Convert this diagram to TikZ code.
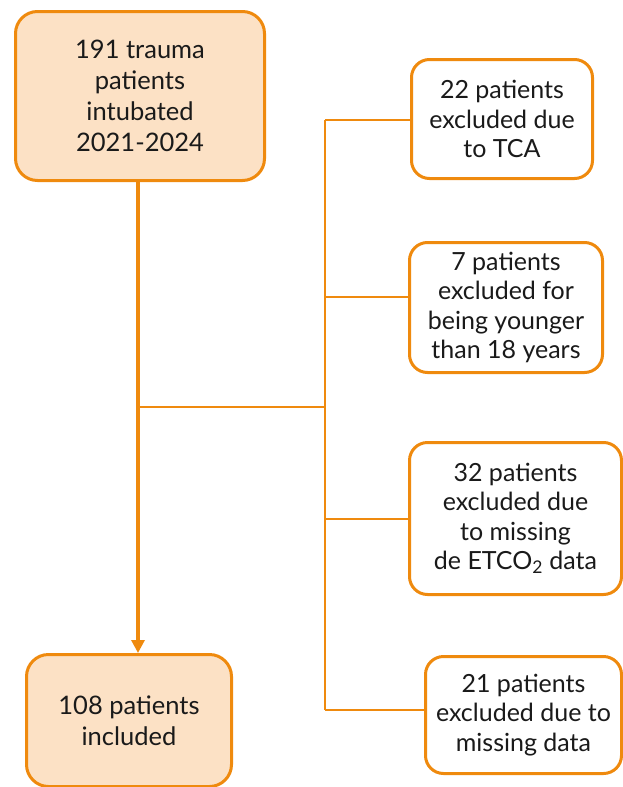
\documentclass[tikz,border=0pt]{standalone}
\usepackage{fontspec}
\setmainfont{Lato}
\usepackage{xcolor}
\definecolor{accent}{HTML}{EF8A0E}
\definecolor{accentsoft}{HTML}{FCE1C5}
\definecolor{ink}{HTML}{1A1A1A}
\usetikzlibrary{arrows.meta,positioning,calc}

\begin{document}
\begin{tikzpicture}[x=1pt,y=-1pt,
  mainbox/.style={rectangle,rounded corners=22pt,draw=accent,line width=3pt,fill=accentsoft,
    text=ink,align=center,inner sep=0pt,font=\fontsize{25.5}{31}\selectfont},
  exclbox/.style={rectangle,rounded corners=18pt,draw=accent,line width=3pt,fill=white,
    text=ink,align=center,inner sep=0pt,font=\fontsize{25}{29.5}\selectfont},
  flow/.style={-{Triangle[length=13pt,width=13pt]},accent,line width=3.2pt},
  link/.style={accent,line width=2pt}]
  \useasboundingbox (0,0) rectangle (623,787);
  \node[mainbox,minimum width=249pt,minimum height=169pt] (intub) at (140,96)
    {191 trauma\\patients\\intubated\\2021-2024};
  \node[mainbox,minimum width=205pt,minimum height=132pt] (incl) at (129,720.5)
    {108 patients\\included};
  \node[exclbox,minimum width=181pt,minimum height=119pt] (tca) at (502,119)
    {22 patients\\excluded due\\to TCA};
  \node[exclbox,minimum width=193pt,minimum height=130pt] (young) at (506,307.5)
    {7 patients\\excluded for\\being younger\\than 18 years};
  \node[exclbox,minimum width=212pt,minimum height=152pt] (etco) at (515.5,518.5)
    {32 patients\\excluded due\\to missing\\de ETCO\textsubscript{2} data};
  \node[exclbox,minimum width=196pt,minimum height=117pt] (miss) at (523.5,715)
    {21 patients\\excluded due to\\missing data};
  % trunk and junctions
  \coordinate (axis) at (138,0);
  \coordinate (split) at (138,407);
  \coordinate (j0) at (325,407);
  \coordinate (j1) at (325,120);
  \coordinate (j2) at (325,297);
  \coordinate (j3) at (325,519);
  \coordinate (j4) at (325,710);
  \draw[flow] (intub.south -| axis) -- (incl.north -| axis);
  \draw[link] (split) -- (j0);
  \draw[link] (j1) -- (j4);
  \draw[link] (j1) -- (j1 -| tca.west);
  \draw[link] (j2) -- (j2 -| young.west);
  \draw[link] (j3) -- (j3 -| etco.west);
  \draw[link] (j4) -- (j4 -| miss.west);
\end{tikzpicture}
\end{document}
